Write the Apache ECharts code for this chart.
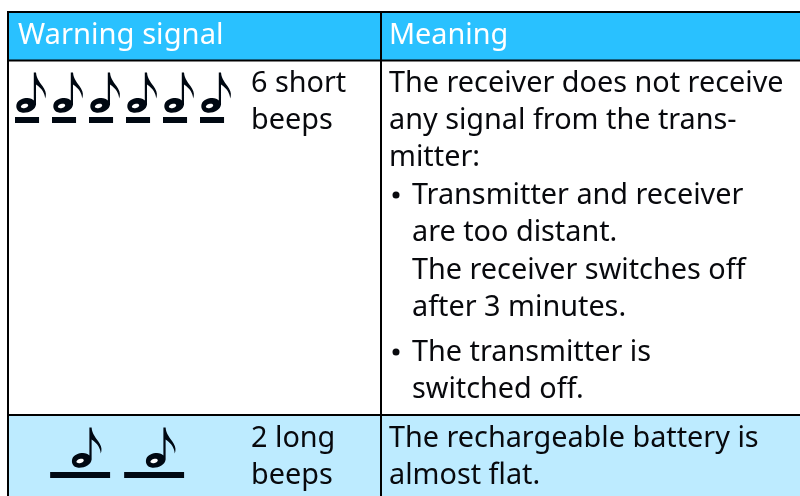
<!DOCTYPE html>
<html><head><meta charset="utf-8">
<style>html,body{margin:0;padding:0;background:#fff}#c{width:800px;height:496px}</style>
<script src="https://cdn.jsdelivr.net/npm/echarts@6/dist/echarts.min.js"></script>
</head><body><div id="c"></div>
<script>
const headers = ["Warning signal", "Meaning"];
const signalLabels = [["6 short", "beeps"], ["2 long", "beeps"]];
const meaningRow1 = ["The receiver does not receive", "any signal from the trans-", "mitter:"];
const bullet1 = ["Transmitter and receiver", "are too distant.", "The receiver switches off", "after 3 minutes."];
const bullet2 = ["The transmitter is", "switched off."];
const meaningRow2 = ["The rechargeable battery is", "almost flat."];
// [row, start, duration] in beep units
const shortBeeps = [[0, 0, 0.65], [0, 1, 0.65], [0, 2, 0.65], [0, 3, 0.65], [0, 4, 0.65], [0, 5, 0.65]];
const longBeeps = [[1, 0.95, 1.62], [1, 2.95, 1.62]];

const FONT = '"Noto Sans", sans-serif', SIZE = 28.8, INK = '#08090d', NOTE = '#000812';
const NOTE_PATH = 'M8.4 -33 L10.6 -33 C11 -26 15 -23 18.5 -17 C20.8 -13 20.8 -10 19.6 -7 C19.4 -12 16.5 -17 10.6 -21 L10.6 -1 C10 4.4 3.5 7.6 -2.5 7.2 C-8 6.8 -9.6 2.5 -8.6 -1.4 C-7.2 -5.4 -2 -7.4 2 -7.4 C5 -7.4 7 -6.4 8.4 -4.9 Z';
const el = [];
const rect = (x, y, w, h, fill) => el.push({type: 'rect', silent: true, shape: {x, y, width: w, height: h}, style: {fill}});
const text = (s, x, base, fill, size) => el.push({type: 'text', silent: true, x, y: base - 8, style: {text: s, fill: fill || INK, font: (size || SIZE) + 'px ' + FONT, verticalAlign: 'middle', align: 'left'}});

rect(8, 12, 792, 49, '#29c1ff');
rect(8, 415, 792, 81, '#bdebff');

headers.forEach((h, i) => text(h, i ? 389 : 18, 44, '#fff', i ? 28.8 : 29.2));
signalLabels[0].forEach((s, i) => text(s, 251, 92 + i * 37));
signalLabels[1].forEach((s, i) => text(s, 251, 447 + i * 37));
[92, 129, 166].forEach((y, i) => text(meaningRow1[i], 389, y));
[204, 241, 279, 316].forEach((y, i) => text(bullet1[i], 412, y));
[361, 398].forEach((y, i) => text(bullet2[i], 412, y));
[447, 484].forEach((y, i) => text(meaningRow2[i], 389, y));
[204, 361].forEach(y => el.push({type: 'circle', silent: true, shape: {cx: 396, cy: y - 9, r: 3.5}, style: {fill: INK}}));

rect(7, 11, 793, 2, '#000');
rect(7, 59.5, 793, 2, '#000');
rect(7, 414, 793, 2, '#000');
rect(7, 11, 2, 485, '#000');
rect(380, 11, 2, 485, '#000');

function renderBeep(params, api) {
  const row = api.value(0), start = api.value(1), dur = api.value(2);
  const p = api.coord([start, row]);
  const w = api.size([dur, 0])[0];
  const cx = p[0] + w / 2 + (row === 0 ? -1.5 : 1);
  const cy = p[1] - 14.5;
  return {type: 'group', children: [
    {type: 'rect', shape: {x: p[0], y: p[1] - 3, width: w, height: 6}, style: {fill: NOTE}},
    {type: 'path', shape: {pathData: NOTE_PATH, x: cx - 9.2, y: cy - 33, width: 29.6, height: 40.2, layout: 'cover'}, style: {fill: NOTE}},
    {type: 'ellipse', x: cx - 1, y: cy + 0.5, rotation: 0.3, shape: {cx: 0, cy: 0, rx: 3.8, ry: 2.1}, style: {fill: '#fff'}}
  ]};
}

const chart = echarts.init(document.getElementById('c'), null, {renderer: 'canvas'});
chart.setOption({
  animation: false,
  grid: {left: 15, top: 120, width: 370, height: 355},
  xAxis: {type: 'value', min: 0, max: 10, show: false},
  yAxis: {type: 'value', min: 0, max: 1, inverse: true, show: false},
  graphic: {elements: el},
  series: [{
    type: 'custom', silent: true, clip: false, renderItem: renderBeep,
    encode: {x: 1, y: 0}, data: shortBeeps.concat(longBeeps)
  }]
});
</script></body></html>
